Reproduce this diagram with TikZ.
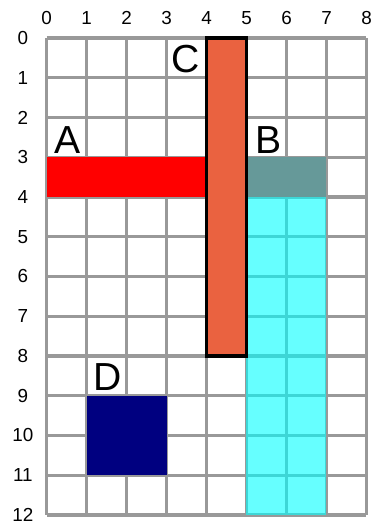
\documentclass[tikz,border=0pt]{standalone}
\usepackage{fontspec}
\setmainfont{Liberation Sans}
\definecolor{gridgray}{HTML}{999999}
\definecolor{corange}{RGB}{234,98,64}
\definecolor{dnavy}{HTML}{000080}
\definecolor{purecyan}{RGB}{0,255,255}
\begin{document}
\begin{tikzpicture}[x=1.0063cm,y=-1cm,
  gridline/.style={draw=gridgray,line width=2.2pt},
  axislabel/.style={font=\fontsize{13.5}{15}\selectfont,inner sep=0pt},
  letterlabel/.style={font=\fontsize{28}{30}\selectfont,inner sep=0pt}]
\useasboundingbox (-1.1625,-0.956) rectangle (8.1125,12.277);
\fill[white] (-1.1625,-0.956) rectangle (8.1125,12.277);
% grid
\foreach \i in {0,...,8} \draw[gridline] (\i,0) -- (\i,12);
\foreach \j in {0,...,12} \draw[gridline] (0,\j) -- (8,\j);
% labels
\foreach \i in {0,...,8} \node[axislabel] (col\i) at (\i,-0.5) {\i};
\foreach \j in {0,...,12} \node[axislabel] (row\j) at (-0.59,\j) {\j};
% A: red band
\fill[red] (0,3) rectangle (7,4);
% cyan band
\fill[purecyan,fill opacity=0.6] (5,3) rectangle (7,12);
% C
\filldraw[fill=corange,draw=black,line width=2.4pt] (4,0) rectangle (5,8);
% D
\fill[dnavy] (1,9) rectangle (3,11);
% letters
\node[letterlabel] (A) at (0.52,2.57) {A};
\node[letterlabel] (B) at (5.55,2.57) {B};
\node[letterlabel] (C) at (3.48,0.53) {C};
\node[letterlabel] (D) at (1.52,8.53) {D};
\end{tikzpicture}
\end{document}
